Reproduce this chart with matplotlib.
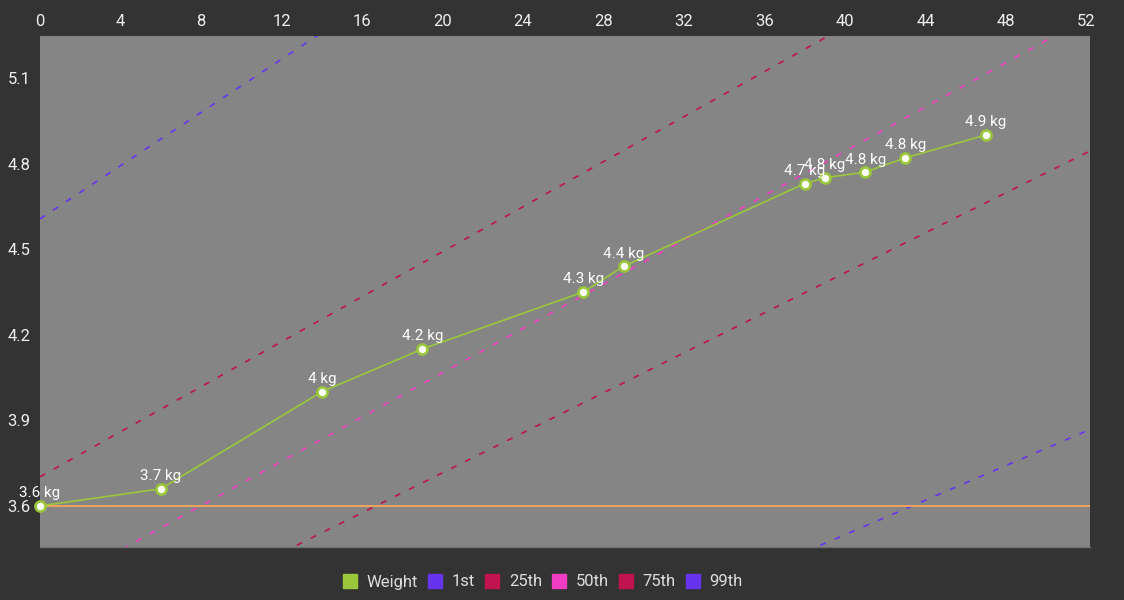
import matplotlib
matplotlib.use("Agg")
import matplotlib.pyplot as plt
from matplotlib.lines import Line2D

plt.rcParams['font.family'] = ['Roboto', 'DejaVu Sans']

# ---- data ----
weeks = [0, 6, 14, 19, 27, 29, 38, 39, 41, 43, 47]
weight = [3.6, 3.66, 4.0, 4.15, 4.35, 4.44, 4.73, 4.75, 4.77, 4.82, 4.90]

pct_weeks = [0, 53]
p1 = [2.287, 3.893]
p25 = [3.015, 4.873]
p50 = [3.290, 5.348]
p75 = [3.702, 5.793]
p99 = [4.606, 7.077]
birth_weight = 3.6

x_ticks = list(range(0, 53, 4))
y_ticks = [3.6, 3.9, 4.2, 4.5, 4.8, 5.1]

# ---- styles ----
FIG_BG = '#333333'
AX_BG = '#858585'
TXT = '#eeeeee'
C_W = '#9bc83a'
C_1 = '#6633ee'
C_25 = '#c0134f'
C_50 = '#f03cc0'
C_75 = '#c0134f'
C_99 = '#6633ee'
C_BW = '#f5a65a'

fig = plt.figure(figsize=(11.24, 6.0), dpi=100, facecolor=FIG_BG)
ax = fig.add_axes([40/1124, 1-547/600, (1090-40)/1124, (547-36)/600])
ax.set_facecolor(AX_BG)

dash = (0, (3.6, 5.8))
for vals, c in [(p1, C_1), (p25, C_25), (p50, C_50), (p75, C_75), (p99, C_99)]:
    ax.plot(pct_weeks, vals, color=c, lw=1.2, linestyle=dash, zorder=2)

ax.axhline(birth_weight, color=C_BW, lw=1.3, zorder=2)

ax.plot(weeks, weight, color=C_W, lw=1.2, marker='o', markersize=7.2,
        markerfacecolor='white', markeredgecolor=C_W, markeredgewidth=1.9,
        zorder=4, clip_on=False)

def fmt(v):
    s = f"{v:.1f}"
    if s.endswith('.0'):
        s = s[:-2]
    return s + " kg"

for x, y in zip(weeks, weight):
    ax.annotate(fmt(y), (x, y), xytext=(0, 4), textcoords='offset points',
                ha='center', va='bottom', color='white', fontsize=11, zorder=5)

ax.set_xlim(0, 52.17)
ax.set_ylim(3.456, 5.247)
ax.set_xticks(x_ticks)
ax.set_yticks(y_ticks)
ax.set_yticklabels([f"{v:.1f}" for v in y_ticks])
ax.xaxis.tick_top()
ax.tick_params(axis='both', length=0, colors=TXT, labelsize=12)
ax.tick_params(axis='x', pad=5)
ax.tick_params(axis='y', pad=7)
for s in ['top', 'left', 'right']:
    ax.spines[s].set_visible(False)
ax.spines['bottom'].set_color('#707070')
ax.spines['bottom'].set_linewidth(1.0)

handles = [
    Line2D([], [], linestyle='none', marker='s', markersize=10, color=C_W, label='Weight'),
    Line2D([], [], linestyle='none', marker='s', markersize=10, color=C_1, label='1st'),
    Line2D([], [], linestyle='none', marker='s', markersize=10, color=C_25, label='25th'),
    Line2D([], [], linestyle='none', marker='s', markersize=10, color=C_50, label='50th'),
    Line2D([], [], linestyle='none', marker='s', markersize=10, color=C_75, label='75th'),
    Line2D([], [], linestyle='none', marker='s', markersize=10, color=C_99, label='99th'),
]
leg = fig.legend(handles=handles, loc='center', bbox_to_anchor=(543/1124, 1-582/600),
                 ncol=6, frameon=False, fontsize=12, handlelength=0.8,
                 handletextpad=0.6, columnspacing=0.62, labelcolor='#dddddd')

fig.savefig('out.png', dpi=100, facecolor=FIG_BG)
